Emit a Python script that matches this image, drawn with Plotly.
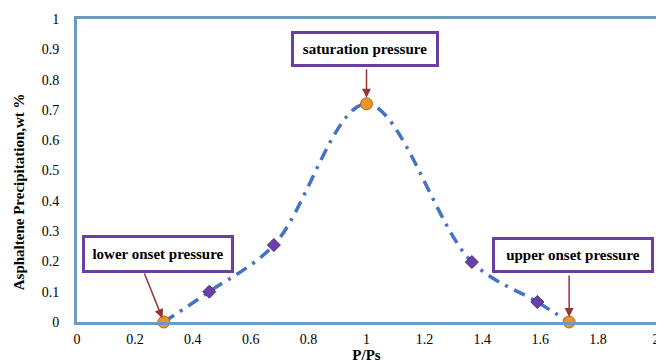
import plotly.graph_objects as go

# Data
p_ratio = [0.30, 0.457, 0.68, 1.00, 1.364, 1.59, 1.70]
precip = [0.0, 0.10, 0.254, 0.72, 0.198, 0.066, 0.0]

onset_x = [0.30, 1.00, 1.70]
onset_y = [0.0, 0.72, 0.0]

mid_x = [0.457, 0.68, 1.364, 1.59]
mid_y = [0.10, 0.254, 0.198, 0.066]

x_ticks = [0, 0.2, 0.4, 0.6, 0.8, 1, 1.2, 1.4, 1.6, 1.8, 2]
y_ticks = [0, 0.1, 0.2, 0.3, 0.4, 0.5, 0.6, 0.7, 0.8, 0.9, 1]

labels = ["lower onset pressure", "saturation pressure", "upper onset pressure"]
y_title = "Asphaltene Precipitation,wt %"
x_title = "P/Ps"

SERIF = "'Times New Roman', Times, serif"

fig = go.Figure()
fig.add_trace(go.Scatter(
    x=p_ratio, y=precip, mode="lines",
    line=dict(color="#4472C4", width=3.5, shape="spline", smoothing=1.0,
              dash="12px,7px,3px,7px"),
    hoverinfo="skip", showlegend=False))
fig.add_trace(go.Scatter(
    x=mid_x, y=mid_y, mode="markers",
    marker=dict(symbol="diamond", size=10, color="#6A3FA8",
                line=dict(color="#4B2A80", width=1)),
    showlegend=False))
fig.add_trace(go.Scatter(
    x=onset_x, y=onset_y, mode="markers", cliponaxis=False,
    marker=dict(symbol="circle", size=12, color="#E8952A",
                line=dict(color="#B06A10", width=1)),
    showlegend=False))

# boxes: (text, anchor x, anchor y, px offset x, px offset y, width, height)
box_specs = [
    (labels[0], 0.30, 0.0, -6, -68, 146, 32),
    (labels[1], 1.00, 0.72, -2, -55, 142, 30),
    (labels[2], 1.70, 0.0, 4, -67, 156, 30),
]
for txt, bx, by, ax, ay, w, h in box_specs:
    fig.add_annotation(
        x=bx, y=by, xref="x", yref="y", text="<b>" + txt + "</b>",
        showarrow=True, arrowcolor="rgba(0,0,0,0)", ax=ax, ay=ay,
        width=w, height=h, bgcolor="white", bordercolor="#6B3FA0",
        borderwidth=3, borderpad=0,
        font=dict(family=SERIF, size=15, color="black"))

# arrows: (x, y, ax, ay, standoff)
arrow_specs = [
    (0.30, 0.0, -20, -50, 4),
    (1.00, 0.72, 0, -36, 6),
    (1.70, 0.0, 0, -48, 5),
]
for x, y, ax, ay, st in arrow_specs:
    fig.add_annotation(
        x=x, y=y, xref="x", yref="y", text="", showarrow=True,
        ax=ax, ay=ay, arrowhead=2, arrowsize=1.2, arrowwidth=1.5,
        arrowcolor="#943634", standoff=st)

# y-axis title placed slightly below centre, as in the reference
fig.add_annotation(
    x=-0.101, y=0.43, xref="paper", yref="paper", text="<b>" + y_title + "</b>",
    showarrow=False, textangle=-90, xanchor="center", yanchor="middle",
    font=dict(family=SERIF, size=15, color="black"))

# page body has an 8px default margin: compensate in size/margins
fig.update_layout(
    width=656, height=356,
    margin=dict(l=69, r=4, t=11, b=34),
    paper_bgcolor="white", plot_bgcolor="white",
    font=dict(family=SERIF, size=14, color="black"),
    xaxis=dict(range=[0, 2], tickvals=x_ticks, ticktext=[f"{v:g}" for v in x_ticks],
               showgrid=False, zeroline=False, showline=True, mirror=True,
               linecolor="#6C9BC2", linewidth=3, ticks="", ticklabelstandoff=2,
               tickfont=dict(family=SERIF, size=14),
               title=dict(text="<b>" + x_title + "</b>", standoff=3,
                          font=dict(family=SERIF, size=15))),
    yaxis=dict(range=[0, 1], tickvals=y_ticks, ticktext=[f"{v:g}" for v in y_ticks],
               showgrid=False, zeroline=False, showline=True, mirror=True,
               linecolor="#6C9BC2", linewidth=3, ticks="", ticklabelstandoff=12,
               tickfont=dict(family=SERIF, size=14)),
)

fig.write_html("out.html")
